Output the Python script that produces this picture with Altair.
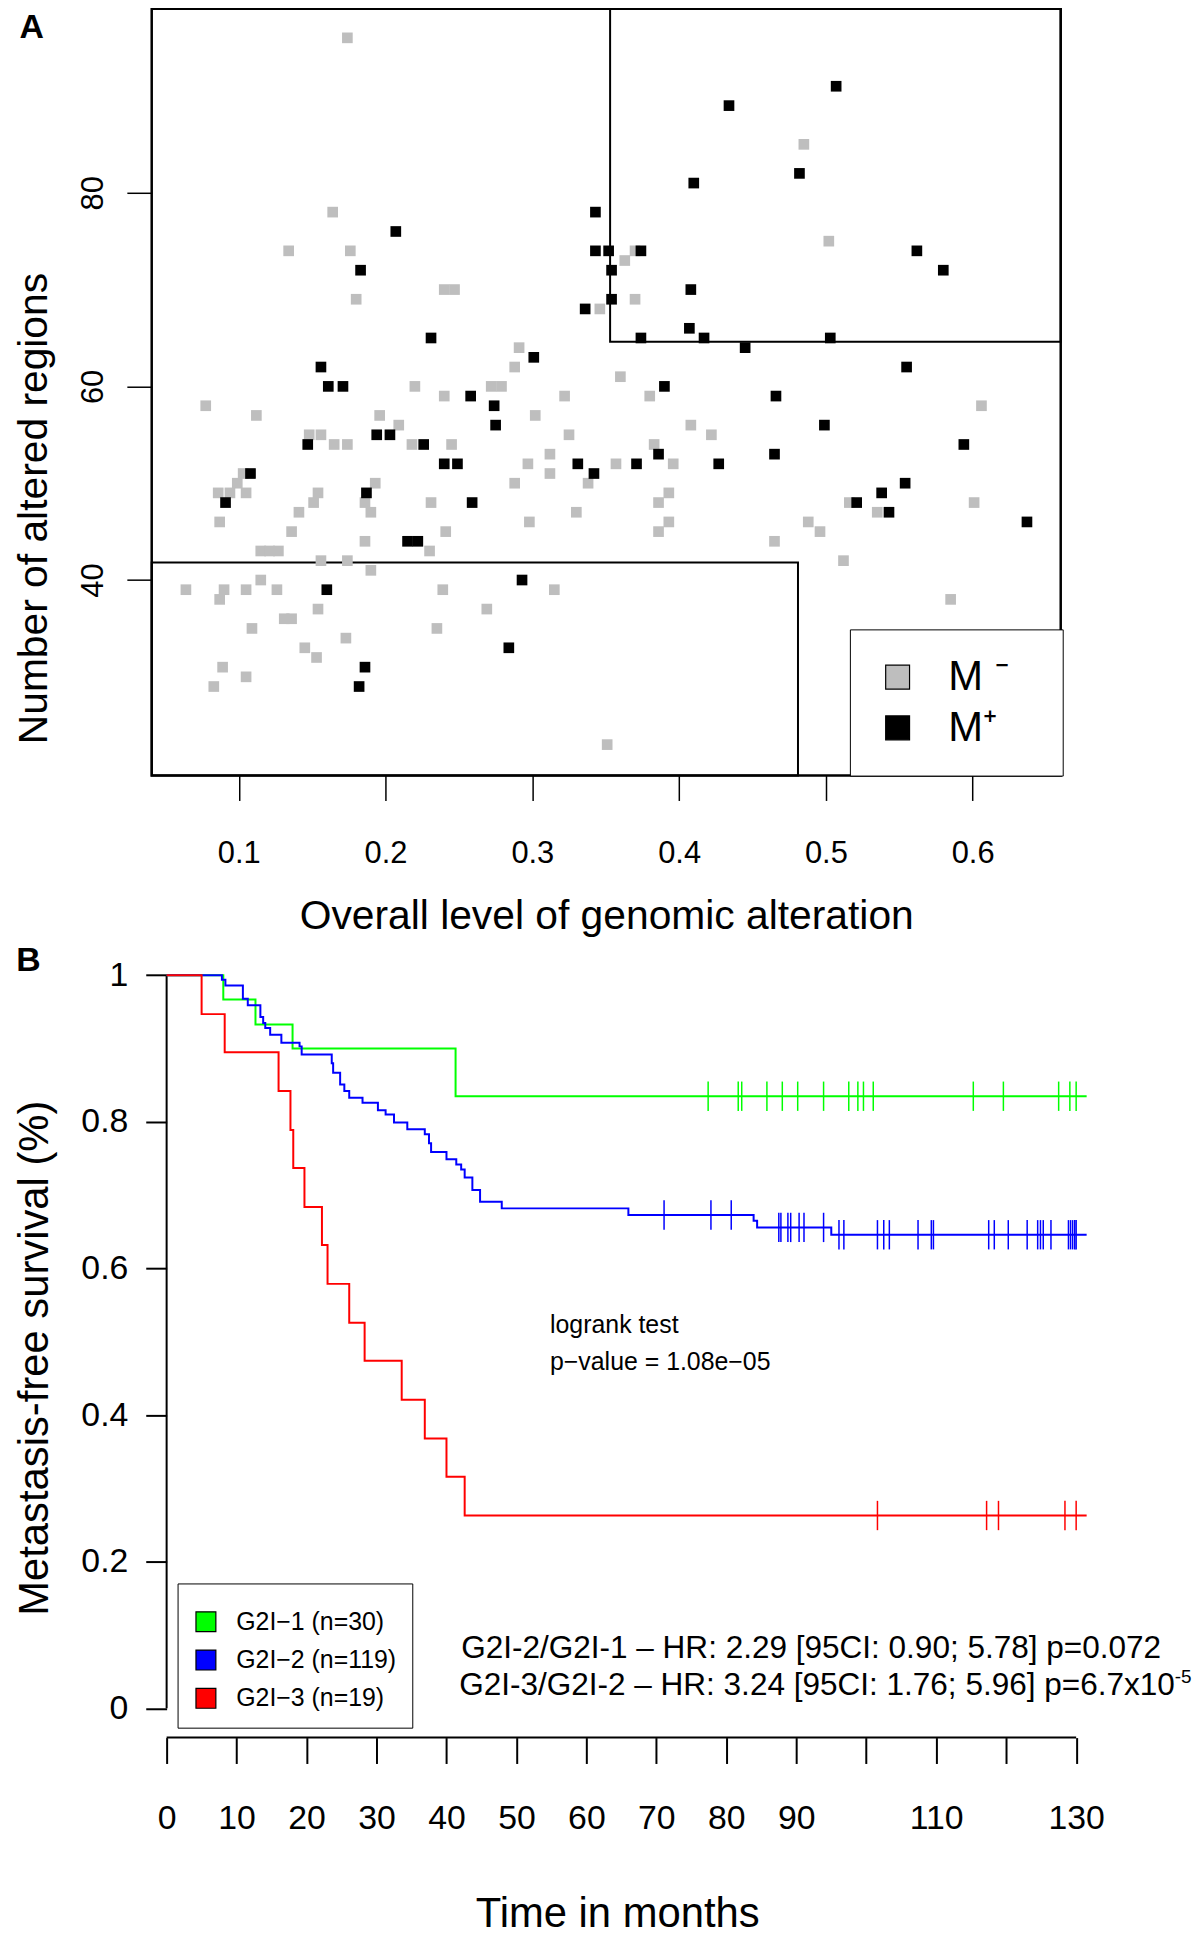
import altair as alt
import pandas as pd

REG = "Liberation Sans, Arial, Helvetica, sans-serif"

# ---------------- Panel A data ----------------
m_minus_x = [0.174, 0.164, 0.134, 0.176, 0.240, 0.247, 0.180, 0.220, 0.240, 0.370,
             0.363, 0.370, 0.346, 0.291, 0.288, 0.360, 0.272, 0.279, 0.322, 0.380,
             0.485, 0.502, 0.0775, 0.112, 0.196, 0.209, 0.148, 0.156, 0.165, 0.174,
             0.218, 0.245, 0.103, 0.099, 0.086, 0.094, 0.105, 0.087, 0.154, 0.151,
             0.141, 0.136, 0.193, 0.186, 0.190, 0.231, 0.241, 0.186, 0.230, 0.115,
             0.121, 0.127, 0.156, 0.174, 0.190, 0.115, 0.064, 0.090, 0.105, 0.126,
             0.239, 0.087, 0.154, 0.131, 0.136, 0.109, 0.235, 0.173, 0.145, 0.153,
             0.089, 0.105, 0.083, 0.302, 0.408, 0.325, 0.422, 0.383, 0.312, 0.297,
             0.357, 0.396, 0.312, 0.288, 0.338, 0.393, 0.386, 0.330, 0.298, 0.393,
             0.386, 0.465, 0.315, 0.269, 0.351, 0.606, 0.516, 0.601, 0.535, 0.488,
             0.496, 0.512, 0.585]
m_minus_y = [96, 78, 74, 74, 70, 70, 69, 60, 59, 74,
             73, 69, 68, 64, 62, 61, 60, 60, 59, 59,
             85, 75, 58, 57, 57, 56, 55, 55, 54, 54,
             54, 54, 51, 50, 49, 49, 49, 46, 49, 48,
             47, 45, 50, 48, 47, 48, 45, 44, 43, 43,
             43, 43, 42, 42, 41, 40, 39, 39, 39, 39,
             39, 38, 37, 36, 36, 35, 35, 34, 33, 32,
             31, 30, 29, 57, 56, 55, 55, 54, 53, 52,
             52, 52, 51, 50, 50, 49, 48, 47, 46, 46,
             45, 44, 39, 37, 23, 58, 48, 48, 47, 46,
             45, 42, 38]
m_plus_x = [0.207, 0.183, 0.231, 0.156, 0.161, 0.171, 0.434, 0.410, 0.343, 0.343,
            0.352, 0.374, 0.354, 0.408, 0.354, 0.336, 0.407, 0.374, 0.417, 0.445,
            0.301, 0.390, 0.258, 0.466, 0.507, 0.482, 0.562, 0.580, 0.503, 0.555,
            0.194, 0.203, 0.147, 0.226, 0.240, 0.249, 0.108, 0.091, 0.187, 0.215,
            0.222, 0.160, 0.186, 0.182, 0.274, 0.275, 0.386, 0.331, 0.371, 0.427,
            0.465, 0.342, 0.259, 0.293, 0.284, 0.499, 0.594, 0.554, 0.538, 0.521,
            0.543, 0.637]
m_plus_y = [76, 72, 65, 62, 60, 60, 89, 81, 78, 74,
            74, 74, 72, 70, 69, 68, 66, 65, 65, 64,
            63, 60, 59, 59, 91, 82, 74, 72, 65, 62,
            55, 55, 54, 54, 52, 52, 51, 48, 49, 44,
            44, 39, 31, 29, 58, 56, 53, 52, 52, 52,
            53, 51, 48, 40, 33, 56, 54, 50, 49, 48,
            47, 46]
status_labels = ["M-", "M+"]
status_colors = ["#BEBEBE", "#000000"]
a_x_ticks = [0.1, 0.2, 0.3, 0.4, 0.5, 0.6]
a_y_ticks = [40, 60, 80]
a_x_domain = [0.0407, 0.66]
a_y_domain = [19.8, 99.0]
# threshold boxes drawn in panel A
box_x = [0.353, 0.0407]
box_x2 = [0.66, 0.481]
box_y = [64.6, 19.8]
box_y2 = [99.0, 41.8]

# ---------------- Panel B data ----------------
groups = ["G2I-1", "G2I-2", "G2I-3"]
group_n = [30, 119, 19]
group_colors = ["#00FF00", "#0000FF", "#FF0000"]

green_t = [0, 8.1, 12.7, 18.0, 41.3, 131.5]
green_s = [1.0, 0.967, 0.933, 0.900, 0.835, 0.835]
blue_t = [0, 7.9, 8.4, 10.9, 11.6, 13.4, 13.8, 14.1, 14.8, 16.4, 19.0, 19.3, 23.6, 23.8,
          24.8, 25.4, 26.1, 28.0, 30.2, 31.3, 32.5, 34.4, 36.9, 37.5, 37.8, 40.0, 41.4,
          42.1, 42.6, 43.7, 44.8, 47.9, 66.0, 83.9, 84.4, 95.0, 131.5]
blue_s = [1.0, 0.994, 0.986, 0.968, 0.959, 0.943, 0.935, 0.928, 0.919, 0.908, 0.903,
          0.892, 0.880, 0.867, 0.851, 0.842, 0.833, 0.826, 0.816, 0.810, 0.799, 0.790,
          0.783, 0.771, 0.759, 0.749, 0.742, 0.735, 0.724, 0.707, 0.691, 0.682, 0.673,
          0.665, 0.656, 0.646, 0.646]
red_t = [0, 5.0, 8.3, 16.0, 17.7, 18.1, 19.7, 22.2, 23.0, 26.1, 28.3, 33.6, 36.9, 40.0,
         42.6, 131.5]
red_s = [1.0, 0.947, 0.895, 0.842, 0.789, 0.737, 0.684, 0.632, 0.579, 0.526, 0.474,
         0.421, 0.368, 0.316, 0.263, 0.263]

green_cens_t = [77.4, 81.7, 82.2, 85.8, 88.0, 90.2, 93.9, 97.5, 98.8, 99.6, 101.0,
                115.3, 119.6, 127.5, 129.1, 130.0]
green_cens_s = [0.835, 0.835, 0.835, 0.835, 0.835, 0.835, 0.835, 0.835, 0.835, 0.835,
                0.835, 0.835, 0.835, 0.835, 0.835, 0.835]
blue_cens_t = [71.1, 77.8, 80.7, 87.5, 87.8, 88.8, 89.2, 90.4, 91.1, 93.9, 96.1, 96.8,
               101.6, 102.5, 103.3, 107.4, 109.3, 109.6, 117.5, 118.3, 120.3, 123.0,
               124.5, 124.9, 125.3, 126.4, 128.9, 129.2, 129.5, 129.8, 130.0]
blue_cens_s = [0.673, 0.673, 0.673, 0.656, 0.656, 0.656, 0.656, 0.656, 0.656, 0.656,
               0.646, 0.646, 0.646, 0.646, 0.646, 0.646, 0.646, 0.646, 0.646, 0.646,
               0.646, 0.646, 0.646, 0.646, 0.646, 0.646, 0.646, 0.646, 0.646, 0.646,
               0.646]
red_cens_t = [101.6, 117.2, 118.9, 128.4, 130.0]
red_cens_s = [0.263, 0.263, 0.263, 0.263, 0.263]

b_x_ticks = [0, 10, 20, 30, 40, 50, 60, 70, 80, 90, 100, 110, 120, 130]
b_y_ticks = [0, 0.2, 0.4, 0.6, 0.8, 1]
b_x_domain = [-2.132, 132.77]
b_y_domain = [-0.04, 1.04]
cens_half = 0.02

logrank_lines = ["logrank test", "p\u2212value = 1.08e\u221205"]
hr_line1 = "G2I-2/G2I-1 \u2013 HR: 2.29 [95CI: 0.90; 5.78] p=0.072"
hr_line2 = "G2I-3/G2I-2 \u2013 HR: 3.24 [95CI: 1.76; 5.96] p=6.7x10"
hr_sup = "-5"

# ---------------- Panel A chart ----------------
scatter_df = pd.DataFrame({
    "x": m_minus_x + m_plus_x,
    "y": m_minus_y + m_plus_y,
    "status": [status_labels[0]] * len(m_minus_x) + [status_labels[1]] * len(m_plus_x),
})
xA_scale = alt.Scale(domain=a_x_domain, nice=False, zero=False)
yA_scale = alt.Scale(domain=a_y_domain, nice=False, zero=False)

a_label_expr = "datum.value == 'M-' ? 'M \u207b' : 'M\u207a'"

scatter = alt.Chart(scatter_df).mark_square(size=115, opacity=1).encode(
    x=alt.X("x:Q", scale=xA_scale, axis=alt.Axis(
        values=a_x_ticks, format=".1f", title="Overall level of genomic alteration",
        domain=False, grid=False, tickSize=25, tickWidth=1.5, tickColor="black",
        labelFont=REG, labelFontSize=31, labelColor="black", labelPadding=38,
        labelFlush=False, labelOverlap=False,
        titleFont=REG, titleFontSize=41, titleFontWeight="normal", titleColor="black",
        titlePadding=29)),
    y=alt.Y("y:Q", scale=yA_scale, axis=alt.Axis(
        values=a_y_ticks, title="Number of altered regions",
        domain=False, grid=False, tickSize=25, tickWidth=1.5, tickColor="black",
        labelFont=REG, labelFontSize=31, labelColor="black", labelPadding=24,
        labelAngle=270, labelAlign="center", labelBaseline="alphabetic",
        labelFlush=False, labelOverlap=False,
        titleFont=REG, titleFontSize=41, titleFontWeight="normal", titleColor="black",
        titlePadding=23, titleY=502)),
    color=alt.Color("status:N", scale=alt.Scale(domain=status_labels, range=status_colors),
                    legend=alt.Legend(
                        title="M", titleOrient="right", titleColor="white",
                        titleFontSize=26, titlePadding=5,
                        orient="none", legendX=702, legendY=624,
                        direction="vertical", symbolType="square", symbolSize=576,
                        symbolStrokeColor="black", symbolStrokeWidth=1.2,
                        symbolOpacity=1,
                        labelFont=REG, labelFontSize=42, labelColor="black",
                        labelOffset=30, padding=27, rowPadding=9,
                        strokeColor="black", fillColor="white",
                        labelExpr=a_label_expr)),
    order=alt.Order("status:N", sort="descending"),
)

boxes_df = pd.DataFrame({"x": box_x, "x2": box_x2, "y": box_y, "y2": box_y2})
boxes = alt.Chart(boxes_df).mark_rect(fill=None, stroke="black", strokeWidth=2).encode(
    x=alt.X("x:Q", scale=xA_scale), x2="x2:Q",
    y=alt.Y("y:Q", scale=yA_scale), y2="y2:Q",
)

label_a = alt.Chart(pd.DataFrame({"x": [-0.041], "y": [97.0], "t": ["A"]})).mark_text(
    font=REG, fontSize=34, fontWeight="bold", align="center", baseline="middle",
    color="black").encode(x=alt.X("x:Q", scale=xA_scale), y=alt.Y("y:Q", scale=yA_scale),
                          text="t:N")

panel_a = alt.layer(boxes, scatter, label_a).properties(
    width=914, height=771,
    view=alt.ViewBackground(stroke="black", strokeWidth=2.5),
)

# ---------------- Panel B chart ----------------
legend_labels = [f"G2I\u2212{g[-1]} (n={n})" for g, n in zip(groups, group_n)]

km_rows = []
for g, lab, ts, ss in [(groups[0], legend_labels[0], green_t, green_s),
                       (groups[1], legend_labels[1], blue_t, blue_s),
                       (groups[2], legend_labels[2], red_t, red_s)]:
    for t, s in zip(ts, ss):
        km_rows.append({"group": g, "label": lab, "t": t, "s": s})
km_df = pd.DataFrame(km_rows)

cens_rows = []
for g, ts, ss in [(groups[0], green_cens_t, green_cens_s),
                  (groups[1], blue_cens_t, blue_cens_s),
                  (groups[2], red_cens_t, red_cens_s)]:
    for t, s in zip(ts, ss):
        cens_rows.append({"group": g, "t": t, "lo": s - cens_half, "hi": s + cens_half})
cens_df = pd.DataFrame(cens_rows)

xB_scale = alt.Scale(domain=b_x_domain, nice=False, zero=False)
yB_scale = alt.Scale(domain=b_y_domain, nice=False, zero=False)
color_scale = alt.Scale(domain=groups, range=group_colors)

curves = alt.Chart(km_df).mark_line(interpolate="step-after", strokeWidth=2).encode(
    x=alt.X("t:Q", scale=xB_scale, axis=alt.Axis(
        values=b_x_ticks, title="Time in months",
        labelExpr="datum.value == 100 || datum.value == 120 ? '' : datum.label",
        domain=False, grid=False, tickSize=26, tickWidth=2, tickColor="black",
        labelFont=REG, labelFontSize=34, labelColor="black", labelPadding=38,
        labelFlush=False, labelOverlap=False,
        titleFont=REG, titleFontSize=42, titleFontWeight="normal", titleColor="black",
        titlePadding=59, titleX=468)),
    y=alt.Y("s:Q", scale=yB_scale, axis=alt.Axis(
        values=b_y_ticks, format="~g", title="Metastasis-free survival (%)",
        offset=-15, domain=False, grid=False, tickSize=21, tickWidth=2, tickColor="black",
        labelFont=REG, labelFontSize=34, labelColor="black", labelPadding=18,
        labelFlush=False, labelOverlap=False,
        titleFont=REG, titleFontSize=42, titleFontWeight="normal", titleColor="black",
        titlePadding=25, titleY=414)),
    color=alt.Color("group:N", scale=color_scale, legend=None),
    detail="group:N",
)

legend_layer = alt.Chart(km_df).mark_square(size=0, filled=True, opacity=1).encode(
    x=alt.X("t:Q", scale=xB_scale), y=alt.Y("s:Q", scale=yB_scale),
    fill=alt.Fill("label:N", scale=alt.Scale(domain=legend_labels, range=group_colors),
                  legend=alt.Legend(
                      title="G", titleColor="white", titleFontSize=9, titlePadding=1,
                      orient="none", legendX=26, legendY=641,
                      direction="vertical", symbolType="square", symbolSize=400,
                      symbolStrokeColor="black", symbolStrokeWidth=1.2, symbolOpacity=1,
                      labelFont=REG, labelFontSize=25, labelColor="black",
                      labelLimit=400, labelOffset=18, padding=16, rowPadding=12.5,
                      strokeColor="black", fillColor="white")),
)

censor = alt.Chart(cens_df).mark_rule(strokeWidth=1.5).encode(
    x=alt.X("t:Q", scale=xB_scale), y=alt.Y("lo:Q", scale=yB_scale), y2="hi:Q",
    color=alt.Color("group:N", scale=color_scale, legend=None),
)

axis_lines = alt.Chart(pd.DataFrame({
    "x": [b_x_ticks[0], b_x_ticks[0]], "x2": [b_x_ticks[-1], b_x_ticks[0]],
    "y": [b_y_domain[0], b_y_ticks[0]], "y2": [b_y_domain[0], b_y_ticks[-1]],
})).mark_rule(strokeWidth=2, color="black").encode(
    x=alt.X("x:Q", scale=xB_scale), x2="x2:Q",
    y=alt.Y("y:Q", scale=yB_scale), y2="y2:Q",
)

logrank = alt.Chart(pd.DataFrame({"t": [54.8, 54.8], "s": [0.5126, 0.4614],
                                  "txt": logrank_lines})).mark_text(
    font=REG, fontSize=25, align="left", baseline="alphabetic", color="black").encode(
    x=alt.X("t:Q", scale=xB_scale), y=alt.Y("s:Q", scale=yB_scale), text="txt:N")

hr1 = alt.Chart(pd.DataFrame({"t": [42.1], "s": [0.068], "txt": [hr_line1]})).mark_text(
    font=REG, fontSize=31.7, align="left", baseline="alphabetic", color="black").encode(
    x=alt.X("t:Q", scale=xB_scale), y=alt.Y("s:Q", scale=yB_scale), text="txt:N")
hr2 = alt.Chart(pd.DataFrame({"t": [144.1], "s": [0.0176], "txt": [hr_line2]})).mark_text(
    font=REG, fontSize=31.7, align="right", baseline="alphabetic", color="black").encode(
    x=alt.X("t:Q", scale=xB_scale), y=alt.Y("s:Q", scale=yB_scale), text="txt:N")
hr2sup = alt.Chart(pd.DataFrame({"t": [144.1], "s": [0.034], "txt": [hr_sup]})).mark_text(
    font=REG, fontSize=19, align="left", baseline="alphabetic", color="black").encode(
    x=alt.X("t:Q", scale=xB_scale), y=alt.Y("s:Q", scale=yB_scale), text="txt:N")

label_b = alt.Chart(pd.DataFrame({"t": [-19.76], "s": [1.019], "txt": ["B"]})).mark_text(
    font=REG, fontSize=34, fontWeight="bold", align="center", baseline="middle",
    color="black").encode(x=alt.X("t:Q", scale=xB_scale), y=alt.Y("s:Q", scale=yB_scale),
                          text="txt:N")

panel_b = alt.layer(axis_lines, curves, censor, legend_layer, logrank, hr1, hr2, hr2sup,
                    label_b).properties(
    width=949, height=796,
    view=alt.ViewBackground(stroke="transparent", strokeWidth=0),
)

chart = alt.vconcat(panel_a, panel_b, spacing=5.3).resolve_scale(
    color="independent", fill="independent", x="independent", y="independent"
).resolve_legend(color="independent", fill="independent").properties(
    padding={"left": 3.5, "top": -7.5, "right": 0, "bottom": 0}
).configure_view(stroke="transparent").configure_legend(strokeWidth=2).configure(
    background="white"
)

chart.save("out.html", embed_options={"renderer": "svg", "actions": False})
